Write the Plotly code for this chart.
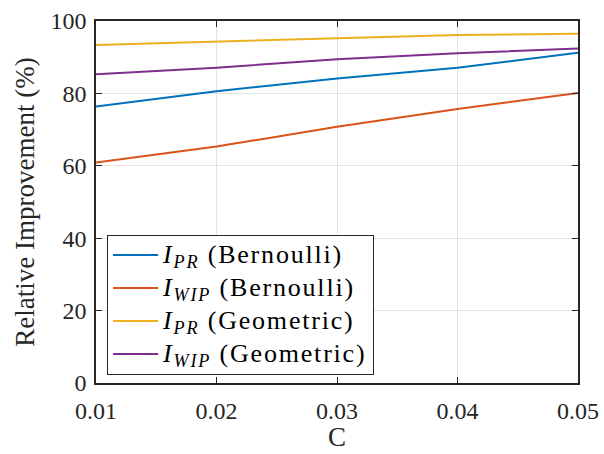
import plotly.graph_objects as go

# Cost parameter values
C = [0.01, 0.02, 0.03, 0.04, 0.05]

# Relative improvement (%) for each measure / distribution
ipr_bernoulli = [76.4, 80.6, 84.1, 87.1, 91.2]
iwip_bernoulli = [60.9, 65.3, 70.8, 75.7, 80.1]
ipr_geometric = [93.4, 94.3, 95.4, 96.1, 96.5]
iwip_geometric = [85.3, 87.1, 89.4, 91.1, 92.4]

series_names = [
    "<i>I</i><sub><i>PR</i></sub> (Bernoulli)",
    "<i>I</i><sub><i>WIP</i></sub> (Bernoulli)",
    "<i>I</i><sub><i>PR</i></sub> (Geometric)",
    "<i>I</i><sub><i>WIP</i></sub> (Geometric)",
]
series_values = [ipr_bernoulli, iwip_bernoulli, ipr_geometric, iwip_geometric]
colors = ["#0072BD", "#D95319", "#EDB120", "#7E2F8E"]

x_ticks = [0.01, 0.02, 0.03, 0.04, 0.05]
x_tick_labels = ["0.01", "0.02", "0.03", "0.04", "0.05"]
y_ticks = [0, 20, 40, 60, 80, 100]

serif = "Liberation Serif, Times New Roman, serif"
axis_color = "#262626"

fig = go.Figure()
for i, (name, vals, col) in enumerate(zip(series_names, series_values, colors)):
    fig.add_trace(go.Scatter(
        x=C, y=vals, mode="lines",
        name='<span style="font-size:26px;letter-spacing:1.8px">' + name + "</span>",
        legendgroup=f"g{i}",
        line=dict(color=col, width=2),
    ))

axis_common = dict(
    showline=True, linecolor=axis_color, linewidth=1.5, mirror="ticks",
    ticks="inside", ticklen=6, tickcolor=axis_color, tickwidth=1,
    showgrid=True, gridcolor="#e3e3e3", gridwidth=1,
    zeroline=False, automargin=False,
    tickfont=dict(family=serif, size=24, color=axis_color),
)

fig.update_xaxes(
    range=[0.01, 0.05], tickvals=x_ticks, ticktext=x_tick_labels,
    ticklabelstandoff=5,
    **axis_common,
)
fig.update_yaxes(
    range=[0, 100], tickvals=y_ticks,
    ticklabelstandoff=3,
    title=dict(text="Relative Improvement (%)", font=dict(family=serif, size=27, color=axis_color), standoff=8),
    **axis_common,
)

# x-axis title placed as an annotation so it can sit close to the bottom edge
fig.add_annotation(
    text="C", xref="paper", yref="paper", x=0.5, y=-0.196,
    xanchor="center", yanchor="bottom", showarrow=False,
    font=dict(family=serif, size=27, color=axis_color),
)

fig.update_layout(
    width=604, height=454,
    margin=dict(l=96, r=26, t=21, b=71),
    paper_bgcolor="white", plot_bgcolor="white",
    showlegend=True,
    legend=dict(
        x=0.023, y=0.41, xanchor="left", yanchor="top",
        bgcolor="white", bordercolor=axis_color, borderwidth=1,
        font=dict(family=serif, size=20, color="black"),
        tracegroupgap=4, itemwidth=45,
    ),
)

fig.write_html("out.html")
